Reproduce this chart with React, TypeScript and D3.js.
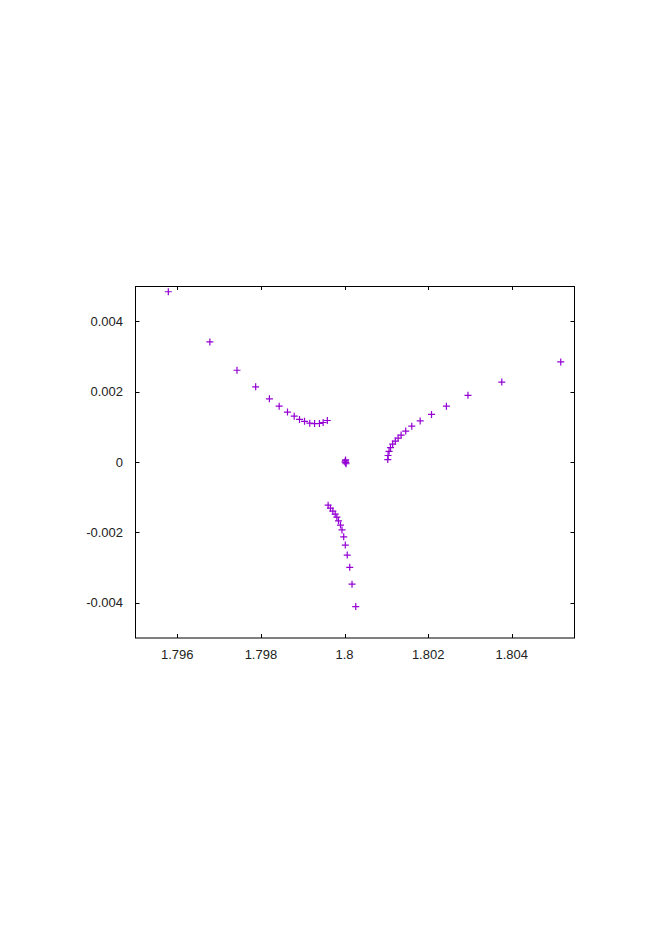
import React from "react";
import * as d3 from "d3";

// Upper-left branch
const branchAX = [1.795785, 1.796779, 1.797427, 1.797874, 1.798203, 1.798436, 1.798635, 1.798796, 1.798923, 1.799043, 1.799168, 1.799283, 1.799399, 1.799488, 1.799588];
const branchAY = [0.004836, 0.003411, 0.002606, 0.002136, 0.001796, 0.001587, 0.001417, 0.001303, 0.00121, 0.001156, 0.001102, 0.001091, 0.001094, 0.001122, 0.001179];
// Right branch
const branchBX = [1.801034, 1.801041, 1.801065, 1.801099, 1.801151, 1.801214, 1.801281, 1.801353, 1.801463, 1.801608, 1.801809, 1.80208, 1.802436, 1.802952, 1.803761, 1.805171];
const branchBY = [0.000068, 0.000184, 0.000303, 0.000408, 0.00051, 0.000595, 0.00068, 0.000765, 0.000878, 0.001017, 0.001167, 0.001351, 0.001586, 0.001895, 0.002272, 0.002844];
// Lower branch
const branchCX = [1.799607, 1.799663, 1.79972, 1.799776, 1.799816, 1.799855, 1.799903, 1.799939, 1.79998, 1.800018, 1.800064, 1.800124, 1.800179, 1.800268];
const branchCY = [-0.001227, -0.001312, -0.001397, -0.001482, -0.001567, -0.001671, -0.001793, -0.001929, -0.002125, -0.00236, -0.002643, -0.002992, -0.00347, -0.004108];
// Central cluster
const centerX = [1.80002, 1.80003, 1.80001, 1.800035, 1.800025];
const centerY = [0.00003, -0.00002, 0.0, -0.00005, 0.00006];

const xTicks = [1.796, 1.798, 1.8, 1.802, 1.804];
const yTicks = [-0.004, -0.002, 0, 0.002, 0.004];
const xTickLabels = ["1.796", "1.798", "1.8", "1.802", "1.804"];
const yTickLabels = ["-0.004", "-0.002", "0", "0.002", "0.004"];

const xDomain = [1.795, 1.8055];
const yDomain = [-0.005, 0.005];

export default function App() {
  const W = 664, H = 940;
  const left = 135.5, right = 574.5, top = 286, bottom = 638;
  const x = d3.scaleLinear().domain(xDomain).range([left, right]);
  const y = d3.scaleLinear().domain(yDomain).range([bottom, top]);
  const color = "#9400d3";
  const font = "'Liberation Sans', Arial, sans-serif";
  const tl = 4;

  const pts: [number, number][] = [];
  const add = (xs: number[], ys: number[]) => xs.forEach((v, i) => pts.push([v, ys[i]]));
  add(branchAX, branchAY);
  add(branchBX, branchBY);
  add(branchCX, branchCY);
  add(centerX, centerY);

  const s = 3.5;
  return (
    <svg width={W} height={H} style={{ position: "absolute", left: 0, top: 0, display: "block", background: "#fff" }}>
      <rect x={0} y={0} width={W} height={H} fill="#fff" />
      {xTicks.map((t, i) => {
        const px = Math.round(x(t)) + 0.5;
        return (
          <g key={"xt" + i}>
            <line x1={px} x2={px} y1={bottom} y2={bottom - tl} stroke="#000" />
            <line x1={px} x2={px} y1={top} y2={top + tl} stroke="#000" />
            <text x={x(t)} y={659} fontFamily={font} fontSize={13} textAnchor="middle" fill="#222">{xTickLabels[i]}</text>
          </g>
        );
      })}
      {yTicks.map((t, i) => {
        const py = Math.round(y(t)) + 0.5;
        return (
          <g key={"yt" + i}>
            <line x1={left} x2={left + tl} y1={py} y2={py} stroke="#000" />
            <line x1={right} x2={right - tl} y1={py} y2={py} stroke="#000" />
            <text x={123} y={y(t)} dy="0.36em" fontFamily={font} fontSize={13} textAnchor="end" fill="#222">{yTickLabels[i]}</text>
          </g>
        );
      })}
      <rect x={left} y={top + 0.5} width={right - left} height={bottom - top - 0.5} fill="none" stroke="#000" strokeWidth={1} />
      {pts.map((p, i) => {
        const cx = x(p[0]);
        const cy = y(p[1]);
        return (
          <path key={"p" + i} d={`M${cx - s},${cy}H${cx + s}M${cx},${cy - s}V${cy + s}`} stroke={color} strokeWidth={1.2} fill="none" />
        );
      })}
    </svg>
  );
}
